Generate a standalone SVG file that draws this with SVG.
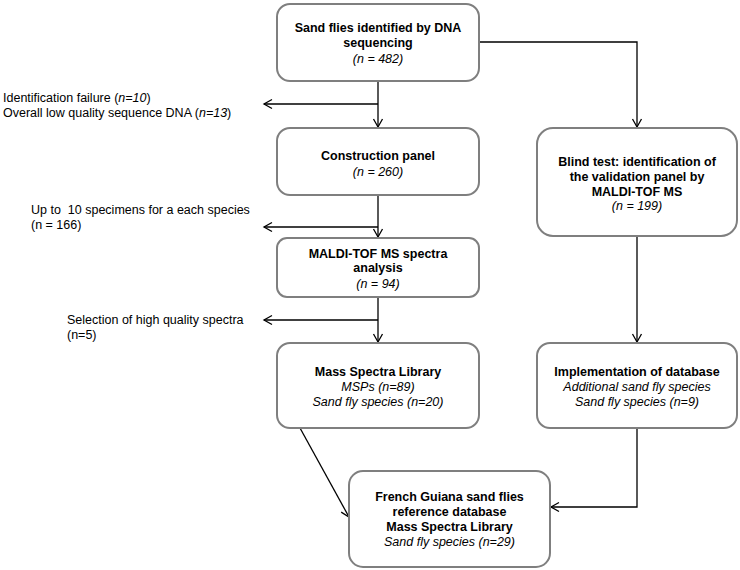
<svg xmlns="http://www.w3.org/2000/svg" width="740" height="570" viewBox="0 0 740 570">
<style>
.box{fill:#fff;stroke:#7f7f7f;stroke-width:2}
.t{font-family:"Liberation Sans",Arial,sans-serif;font-size:12.5px;fill:#000}
.b{font-weight:bold}
.c{text-anchor:middle}
.i{font-style:italic}
.ln{fill:none;stroke:#000;stroke-width:1.3}
</style>
<defs>
<marker id="arr" markerUnits="userSpaceOnUse" markerWidth="12" markerHeight="12" refX="9" refY="5" orient="auto" viewBox="0 0 12 10">
<path d="M1,0.5 L9,5 L1,9.5" fill="none" stroke="#000" stroke-width="1.3"/>
</marker>
</defs>
<rect width="740" height="570" fill="#fff"/>
<g id="connectors">
<line class="ln" x1="378" y1="81" x2="378" y2="127" marker-end="url(#arr)"/>
<line class="ln" x1="378" y1="104" x2="264" y2="104" marker-end="url(#arr)"/>
<line class="ln" x1="378" y1="195" x2="378" y2="237" marker-end="url(#arr)"/>
<line class="ln" x1="378" y1="227" x2="264" y2="227" marker-end="url(#arr)"/>
<line class="ln" x1="378" y1="297" x2="378" y2="342" marker-end="url(#arr)"/>
<line class="ln" x1="378" y1="320" x2="264" y2="320" marker-end="url(#arr)"/>
<polyline class="ln" points="480,42 637,42 637,127" marker-end="url(#arr)"/>
<line class="ln" x1="637" y1="236" x2="637" y2="342" marker-end="url(#arr)"/>
<polyline class="ln" points="637,428 637,507 551,507" marker-end="url(#arr)"/>
<line class="ln" x1="300" y1="428" x2="349" y2="517" marker-end="url(#arr)"/>
</g>
<g id="n1">
<rect class="box" x="277" y="4" width="202" height="77" rx="13"/>
<text class="t b c" x="378" y="32">Sand flies identified by DNA</text>
<text class="t b c" x="378" y="47">sequencing</text>
<text class="t i c" x="378" y="63">(n = 482)</text>
</g>
<g id="n2">
<rect class="box" x="277" y="128" width="202" height="67" rx="13"/>
<text class="t b c" x="378" y="160">Construction panel</text>
<text class="t i c" x="378" y="176">(n = 260)</text>
</g>
<g id="n3">
<rect class="box" x="277" y="238" width="202" height="59" rx="10"/>
<text class="t b c" x="378" y="258">MALDI-TOF MS spectra</text>
<text class="t b c" x="378" y="272">analysis</text>
<text class="t i c" x="378" y="288">(n = 94)</text>
</g>
<g id="n4">
<rect class="box" x="277" y="343" width="202" height="85" rx="13"/>
<text class="t b c" x="378" y="376">Mass Spectra Library</text>
<text class="t i c" x="378" y="391">MSPs (n=89)</text>
<text class="t i c" x="378" y="406">Sand fly species (n=20)</text>
</g>
<g id="n5">
<rect class="box" x="537" y="128" width="200" height="108" rx="16"/>
<text class="t b c" x="637" y="166">Blind test: identification of</text>
<text class="t b c" x="637" y="181">the validation panel by</text>
<text class="t b c" x="637" y="196">MALDI-TOF MS</text>
<text class="t i c" x="637" y="210">(n = 199)</text>
</g>
<g id="n6">
<rect class="box" x="537" y="343" width="200" height="85" rx="13"/>
<text class="t b c" x="637" y="376">Implementation of database</text>
<text class="t i c" x="637" y="391">Additional sand fly species</text>
<text class="t i c" x="637" y="406">Sand fly species (n=9)</text>
</g>
<g id="n7">
<rect class="box" x="349" y="471" width="201" height="96" rx="14"/>
<text class="t b c" x="449.5" y="501">French Guiana sand flies</text>
<text class="t b c" x="449.5" y="516">reference database</text>
<text class="t b c" x="449.5" y="531">Mass Spectra Library</text>
<text class="t i c" x="449.5" y="546">Sand fly species (n=29)</text>
</g>
<g id="side-notes">
<text class="t" x="3" y="102">Identification failure (<tspan class="i">n=10</tspan>)</text>
<text class="t" x="3" y="117">Overall low quality sequence DNA  (<tspan class="i">n=13</tspan>)</text>
<text class="t" x="31" y="214" style="white-space:pre">Up to  10 specimens for a each species</text>
<text class="t" x="31" y="229">(n = 166)</text>
<text class="t" x="67" y="324">Selection of high quality spectra</text>
<text class="t" x="67" y="339">(n=5)</text>
</g>
</svg>
